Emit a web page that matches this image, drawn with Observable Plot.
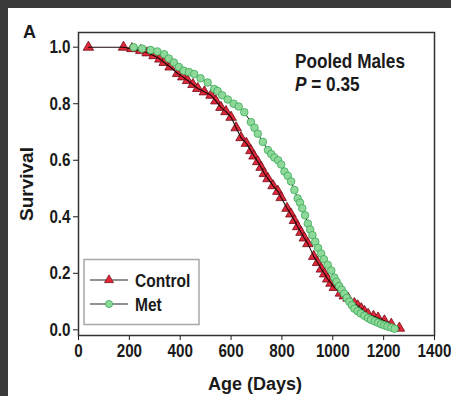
<!DOCTYPE html>
<html><head><meta charset="utf-8">
<script src="https://cdn.jsdelivr.net/npm/d3@7"></script>
<script src="https://cdn.jsdelivr.net/npm/@observablehq/plot@0.6"></script>
<style>
html,body{margin:0;padding:0;}
body{width:451px;height:396px;background:#3a3a3a;position:relative;overflow:hidden;}
#panel{position:absolute;left:8px;top:8px;width:443px;height:388px;background:#fff;}
#chart{position:absolute;left:0;top:0;}
#overlay{position:absolute;left:0;top:0;}
</style></head><body>
<div id="panel"></div>
<div id="chart"></div>
<svg id="overlay" width="451" height="396"></svg>
<script>
// Control (red triangles)
const controlDays = [39,177,210,245,270,297,320,337,360,390,410,429,450,469,495,521,540,560,580,600,620,639,660,678,690,705,718,731,745,765,784,797,820,835,849,862,875,888,902,925,940,955,968,980,993,1006,1030,1045,1060,1085,1098,1112,1125,1139,1160,1178,1203,1230,1262];
const controlSurv = [1.0,1.0,0.995,0.988,0.98,0.97,0.958,0.946,0.93,0.907,0.895,0.882,0.868,0.854,0.842,0.83,0.81,0.787,0.772,0.752,0.715,0.68,0.66,0.634,0.615,0.595,0.575,0.553,0.535,0.51,0.49,0.468,0.43,0.41,0.387,0.365,0.345,0.325,0.305,0.26,0.238,0.215,0.198,0.18,0.165,0.15,0.13,0.12,0.112,0.093,0.085,0.075,0.065,0.055,0.048,0.042,0.032,0.02,0.006];
// Met (green circles)
const metDays = [217,250,284,310,337,355,375,395,414,435,455,480,508,534,547,565,587,610,630,652,678,692,705,725,745,758,770,785,797,810,823,836,849,862,871,880,891,902,911,920,931,942,954,965,980,994,1006,1015,1025,1035,1045,1055,1065,1075,1085,1098,1110,1124,1138,1150,1165,1178,1190,1203,1215,1230,1243];
const metSurv = [1.0,0.995,0.99,0.985,0.975,0.96,0.946,0.93,0.917,0.912,0.905,0.89,0.875,0.852,0.845,0.83,0.815,0.8,0.79,0.77,0.735,0.715,0.694,0.665,0.636,0.622,0.61,0.6,0.585,0.56,0.545,0.525,0.495,0.465,0.45,0.43,0.405,0.376,0.355,0.335,0.312,0.29,0.27,0.25,0.23,0.21,0.185,0.17,0.155,0.142,0.128,0.113,0.1,0.087,0.075,0.066,0.058,0.05,0.042,0.036,0.03,0.025,0.02,0.016,0.012,0.008,0.004];
const xTicks = [0,200,400,600,800,1000,1200,1400];
const yTicks = [0,0.2,0.4,0.6,0.8,1.0];
const seriesNames = ["Control","Met"];
const xLabel = "Age (Days)";
const yLabel = "Survival";
const panelLetter = "A";
const groupTitle = "Pooled Males";
const pValue = "0.35";

const control = controlDays.map((d,i)=>({day:d, surv:controlSurv[i]}));
const met = metDays.map((d,i)=>({day:d, surv:metSurv[i]}));

const FONT = '"Liberation Sans",Arial,sans-serif';
const K = 0.8; // horizontal condensing of the narrow face
const RED = "#e0283a", RED_S = "#6e0c16", GREEN = "#8ed99a", GREEN_S = "#3aa957";

const plot = Plot.plot({
  width: 451, height: 396,
  marginLeft: 78, marginRight: 17, marginTop: 32, marginBottom: 61,
  style: {background: "transparent", fontFamily: FONT, fontSize: "19px", fontWeight: "bold", color: "#1a1a1a"},
  x: {domain: [0,1400], ticks: xTicks, tickFormat: d => String(d), tickSize: 5, tickPadding: 3, label: null},
  y: {domain: [-0.02,1.052], ticks: yTicks, tickFormat: d => d.toFixed(1), tickSize: 5, tickPadding: 3, label: null},
  marks: [
    Plot.frame({stroke: "#333", strokeWidth: 1.5}),
    Plot.dot(control, {x: "day", y: "surv", symbol: "triangle", r: 3.9, fill: RED, stroke: RED_S, strokeWidth: 0.8}),
    Plot.line(control, {x: "day", y: "surv", stroke: "#1a0808", strokeWidth: 1.1}),
    Plot.line(met, {x: "day", y: "surv", stroke: "#111", strokeWidth: 1}),
    Plot.dot(met, {x: "day", y: "surv", symbol: "circle", r: 3.8, fill: GREEN, stroke: GREEN_S, strokeWidth: 0.8})
  ]
});
document.getElementById("chart").appendChild(plot);

// condense tick labels horizontally (narrow bold face look)
d3.select(plot).selectAll('g[aria-label$="tick label"] text, g[aria-label="x-axis"] text, g[aria-label="y-axis"] text').each(function(){
  const t = d3.select(this);
  const x = +t.attr("x") || 0, dx = t.attr("dx");
  if (x) t.attr("x", x / K);
  if (dx && !isNaN(+dx)) t.attr("dx", +dx / K);
  const tr = t.attr("transform") || "";
  t.attr("transform", (tr ? tr + " " : "") + `scale(${K},1)`);
});

const ov = d3.select("#overlay").style("font-family", FONT).style("font-weight","bold").attr("fill","#1a1a1a");
ov.append("text").attr("x",23).attr("y",38).attr("font-size",18).text(panelLetter);
ov.append("text").attr("transform",`translate(295,68) scale(0.82,1)`).attr("font-size",21).text(groupTitle);
const pt = ov.append("text").attr("transform",`translate(295,91) scale(0.82,1)`).attr("font-size",21);
pt.append("tspan").attr("font-style","italic").text("P");
pt.append("tspan").text(" = " + pValue);
ov.append("text").attr("transform","translate(33,184) rotate(-90)").attr("text-anchor","middle").attr("font-size",19).text(yLabel);
ov.append("text").attr("x",255).attr("y",390).attr("text-anchor","middle").attr("font-size",18).text(xLabel);
// legend
const lg = ov.append("g");
lg.append("rect").attr("x",84).attr("y",259.5).attr("width",115).attr("height",65).attr("fill","#fff").attr("stroke","#a8a8a8").attr("stroke-width",1.5);
const rows = [{y:280, name:seriesNames[0], sym:"tri"},{y:304, name:seriesNames[1], sym:"circ"}];
rows.forEach(r => {
  lg.append("line").attr("x1",90).attr("x2",128).attr("y1",r.y).attr("y2",r.y).attr("stroke","#222").attr("stroke-width",1.2);
  if (r.sym === "tri") {
    lg.append("path").attr("d", d3.symbol(d3.symbolTriangle, 36)()).attr("transform",`translate(109,${r.y})`).attr("fill",RED).attr("stroke",RED_S).attr("stroke-width",0.7);
  } else {
    lg.append("circle").attr("cx",109).attr("cy",r.y).attr("r",3.6).attr("fill",GREEN).attr("stroke",GREEN_S).attr("stroke-width",0.8);
  }
  lg.append("text").attr("transform",`translate(135,${r.y+7}) scale(0.82,1)`).attr("font-size",19).text(r.name);
});
</script>
</body></html>
